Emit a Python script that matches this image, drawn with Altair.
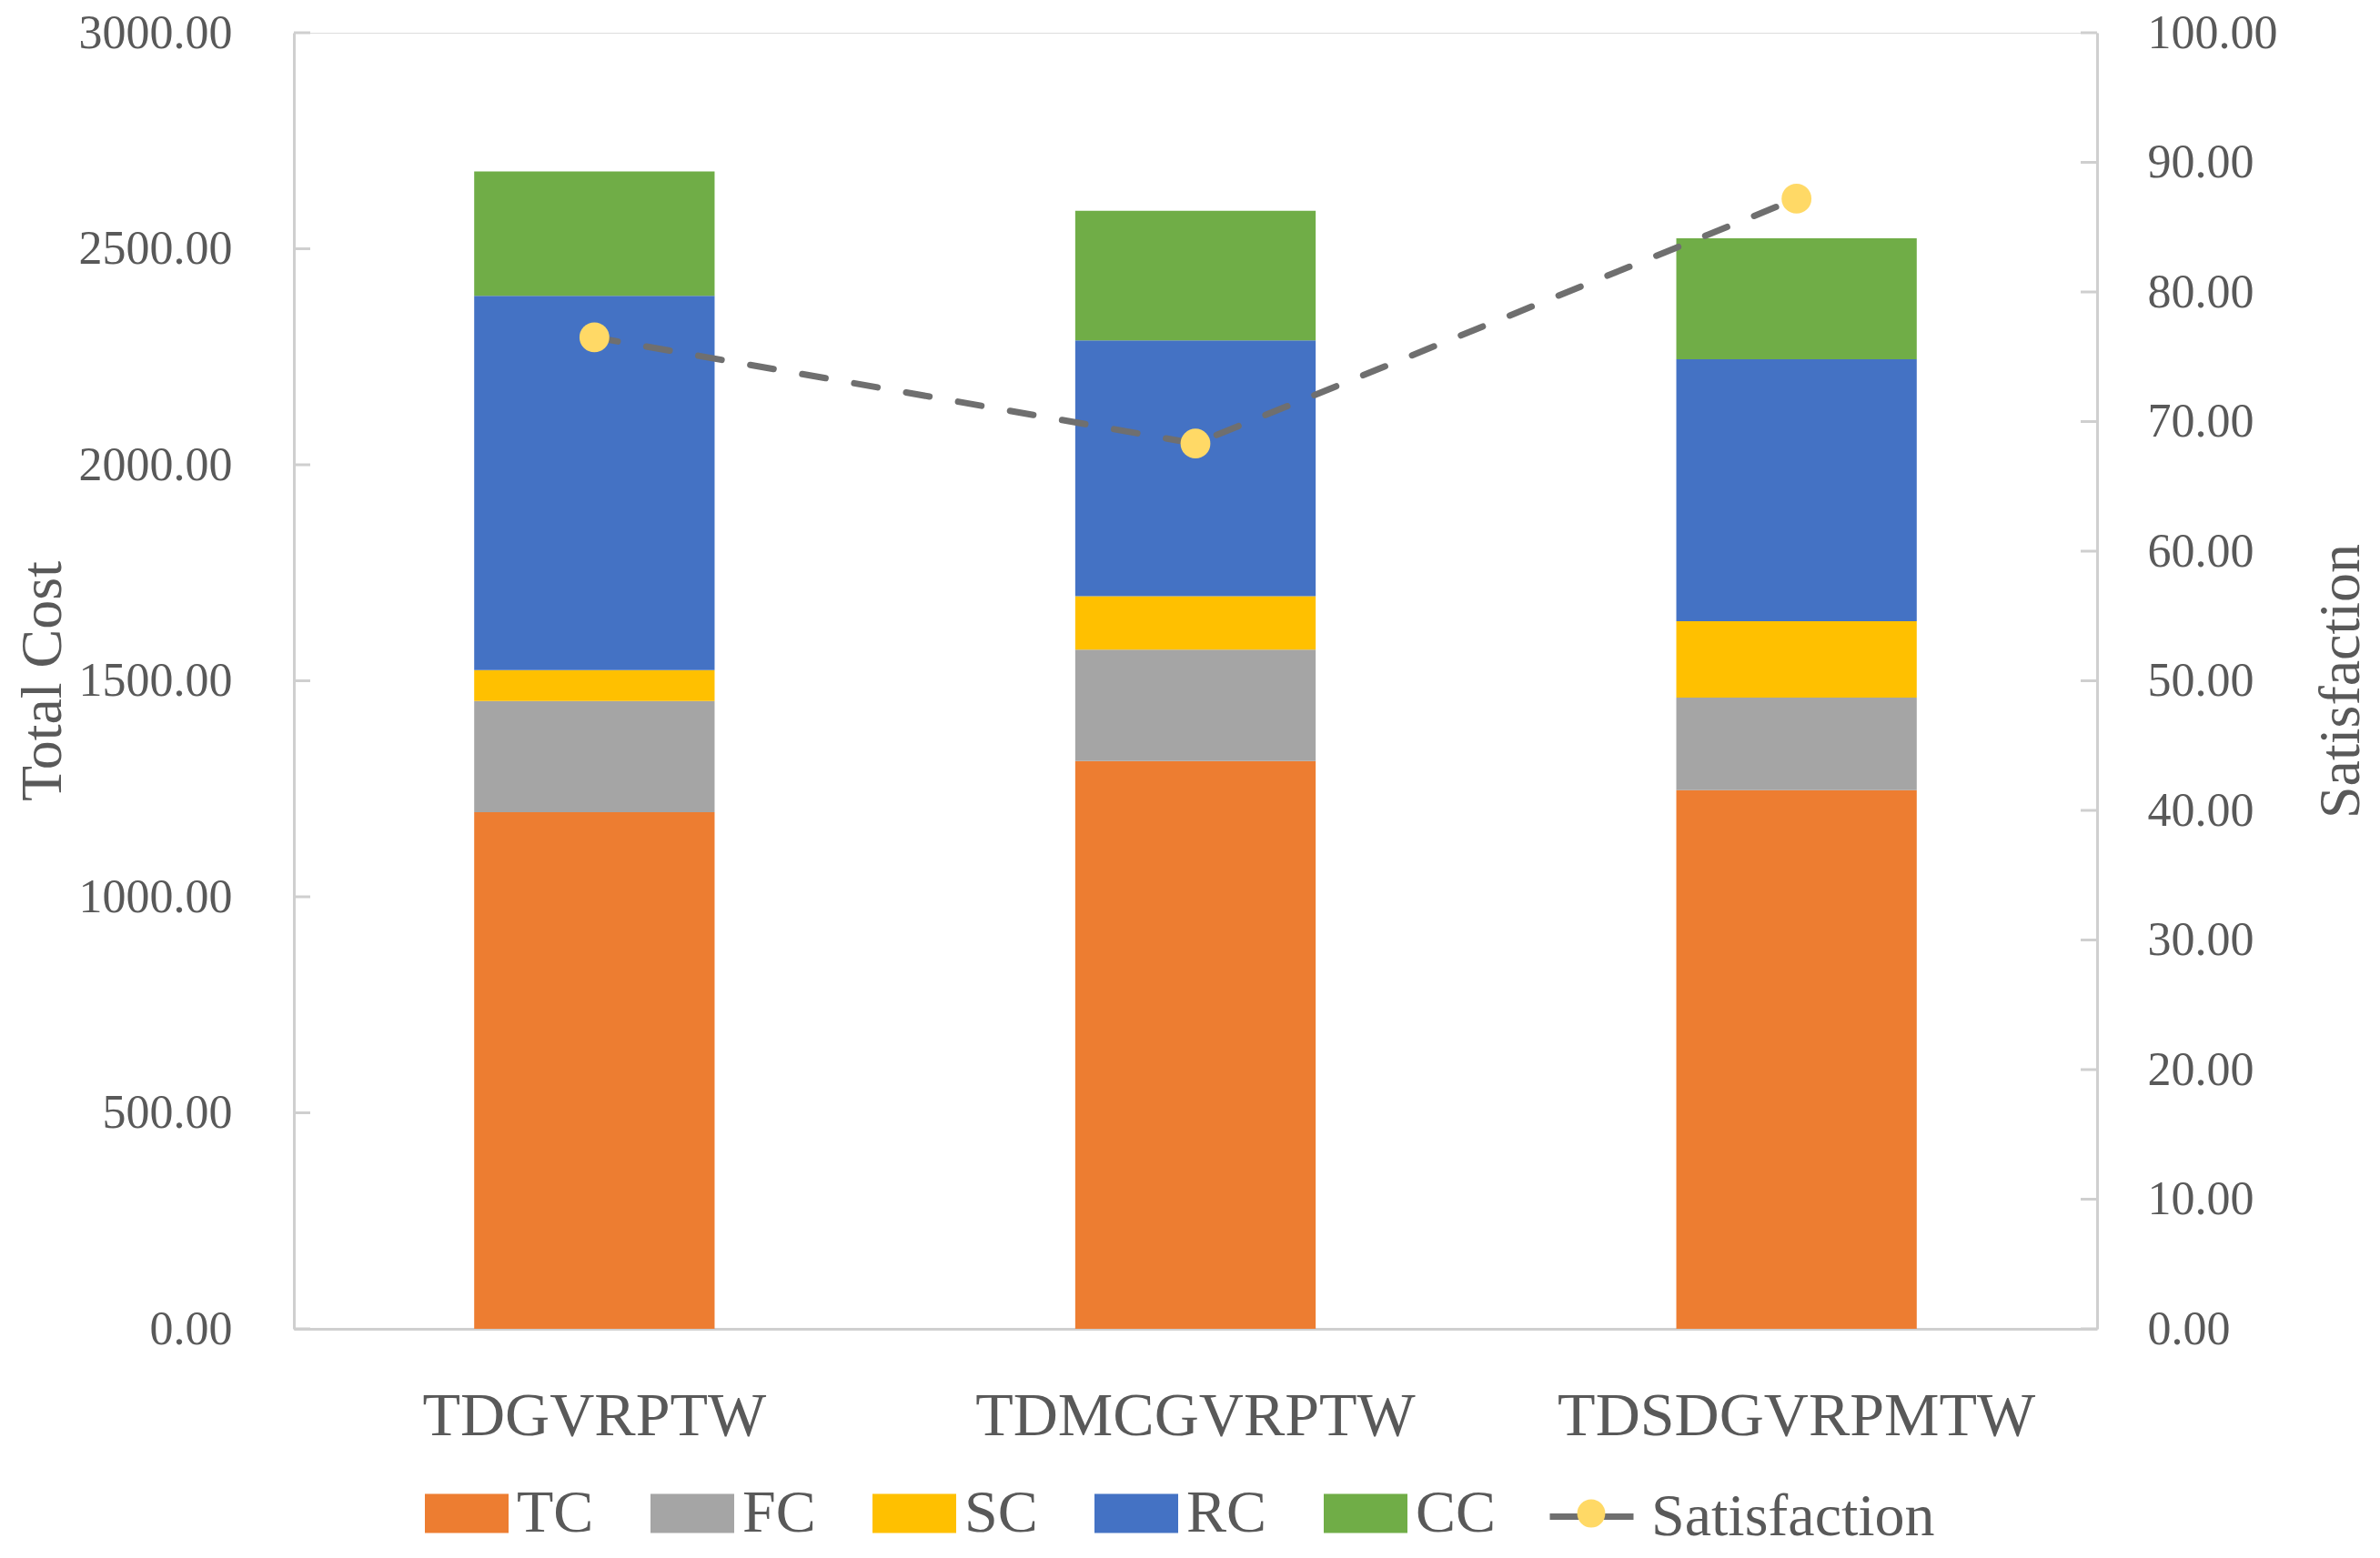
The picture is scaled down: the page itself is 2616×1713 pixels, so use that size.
import altair as alt
import pandas as pd

categories = ["TDGVRPTW", "TDMCGVRPTW", "TDSDGVRPMTW"]
components = ["TC", "FC", "SC", "RC", "CC"]
TC = [1196, 1314, 1247]
FC = [257, 258, 214]
SC = [72, 124, 177]
RC = [866, 592, 606]
CC = [288, 300, 280]
satisfaction = [76.5, 68.3, 87.2]
left_ticks = [0, 500, 1000, 1500, 2000, 2500, 3000]
right_ticks = [0, 10, 20, 30, 40, 50, 60, 70, 80, 90, 100]

colors = ["#ED7D31", "#A5A5A5", "#FFC000", "#4472C4", "#70AD47"]
TEXT = "#595959"
AXIS = "#cfcfcf"
LINE = "#6f6f6f"
DOT = "#FFD966"
FONT = "Liberation Serif"
W, H = 1982, 1425

series = {"TC": TC, "FC": FC, "SC": SC, "RC": RC, "CC": CC}
rows = []
for k, comp in enumerate(components):
    for i, cat in enumerate(categories):
        rows.append({"cat": cat, "comp": comp, "value": series[comp][i], "idx": k})
bars_df = pd.DataFrame(rows)
sat_df = pd.DataFrame({
    "cat": categories, "sat": satisfaction,
    "series": ["Satisfaction"] * 3, "marker": ["Satisfaction marker"] * 3,
})
lt_df = pd.DataFrame({"tick": left_ticks})
rt_df = pd.DataFrame({"tick": right_ticks})

LEG_Y = 1582
LEG_FS = 66

x_axis = alt.Axis(
    title=None, ticks=False, tickSize=0, labelFontSize=68, labelPadding=62,
    labelColor=TEXT, labelFont=FONT, domainColor=AXIS, domainWidth=3, labelAngle=0,
    labelLimit=1000,
)
x_scale = alt.Scale(paddingInner=0.6, paddingOuter=0.3)


def xenc():
    return alt.X("cat:N", sort=categories, scale=x_scale, axis=x_axis)


left_axis = alt.Axis(
    values=left_ticks, format=".2f", ticks=False, tickSize=0, grid=False,
    labelFontSize=52, labelPadding=68, labelColor=TEXT, labelFont=FONT,
    domainColor=AXIS, domainWidth=3,
    title="Total Cost", titleFontSize=64, titleFont=FONT, titleColor=TEXT,
    titleFontWeight="normal", titleAngle=270, titleX=-257, titleY=H / 2,
    titleAlign="center", titleBaseline="alphabetic",
)
right_axis = alt.Axis(
    orient="right", values=right_ticks, format=".2f", ticks=False, tickSize=0, grid=False,
    labelFontSize=52, labelPadding=55, labelColor=TEXT, labelFont=FONT,
    domainColor=AXIS, domainWidth=3,
    title="Satisfaction", titleFontSize=64, titleFont=FONT, titleColor=TEXT,
    titleFontWeight="normal", titleAngle=270, titleX=287, titleY=H / 2,
    titleAlign="center", titleBaseline="alphabetic",
)
left_scale = alt.Scale(domain=[0, 3000], nice=False)
right_scale = alt.Scale(domain=[0, 100], nice=False)

bars = alt.Chart(bars_df).mark_bar().encode(
    x=xenc(),
    y=alt.Y("value:Q", stack="zero", scale=left_scale, axis=left_axis),
    color=alt.Color(
        "comp:N",
        sort=components,
        scale=alt.Scale(domain=components, range=colors),
        legend=alt.Legend(
            orient="none", legendX=144, legendY=LEG_Y, direction="horizontal", title=None,
            symbolType="M-1,-0.467H1V0.467H-1Z", symbolSize=8464, symbolStrokeWidth=0,
            labelFontSize=LEG_FS, labelFont=FONT, labelColor=TEXT, labelOffset=9,
            columnPadding=62, labelLimit=1000, padding=0,
        ),
    ),
    order=alt.Order("idx:Q"),
)

lticks = alt.Chart(lt_df).mark_rule(color=AXIS, strokeWidth=3).encode(
    y=alt.Y("tick:Q", scale=left_scale, axis=left_axis),
    x=alt.value(0),
    x2=alt.value(18),
)

line = alt.Chart(sat_df).mark_line(
    color=LINE, strokeWidth=7, strokeCap="round", strokeDash=[26, 32]
).encode(
    x=xenc(),
    y=alt.Y("sat:Q", scale=right_scale, axis=right_axis),
    opacity=alt.Opacity(
        "series:O",
        scale=alt.Scale(domain=["Satisfaction"], range=[1]),
        legend=alt.Legend(
            orient="none", legendX=1377, legendY=LEG_Y, title=None, symbolType="stroke",
            symbolSize=8464, symbolStrokeColor=LINE, symbolStrokeWidth=7,
            symbolDash=[1, 0], symbolOpacity=1,
            labelFontSize=LEG_FS, labelFont=FONT, labelColor=TEXT, labelOffset=16,
            labelLimit=1000, padding=0,
        ),
    ),
)

points = alt.Chart(sat_df).mark_point(filled=True, size=1075, color=DOT, opacity=1).encode(
    x=xenc(),
    y=alt.Y("sat:Q", scale=right_scale, axis=right_axis),
    shape=alt.Shape(
        "marker:N",
        scale=alt.Scale(domain=["Satisfaction marker"], range=["circle"]),
        legend=alt.Legend(
            orient="none", legendX=1393, legendY=LEG_Y + 13, title=None,
            symbolSize=950, symbolFillColor=DOT, symbolStrokeWidth=0, symbolOpacity=1,
            labelFontSize=LEG_FS, labelFont=FONT, labelExpr="''", labelLimit=1000,
            padding=0,
        ),
    ),
)

rticks = alt.Chart(rt_df).mark_rule(color=AXIS, strokeWidth=3).encode(
    y=alt.Y("tick:Q", scale=right_scale, axis=right_axis),
    x=alt.value(W - 18),
    x2=alt.value(W),
)

left = alt.layer(bars, lticks)
right = alt.layer(line, points, rticks)

chart = (
    alt.layer(left, right)
    .resolve_scale(y="independent", opacity="independent", shape="independent")
    .properties(
        width=W, height=H,
        autosize=alt.AutoSizeParams(type="none"),
        padding={"left": 315, "top": 28, "right": 303, "bottom": 244},
    )
    .configure_view(stroke=None)
    .configure(font=FONT)
)

chart.save("out.html", embed_options={"renderer": "svg", "actions": False})
